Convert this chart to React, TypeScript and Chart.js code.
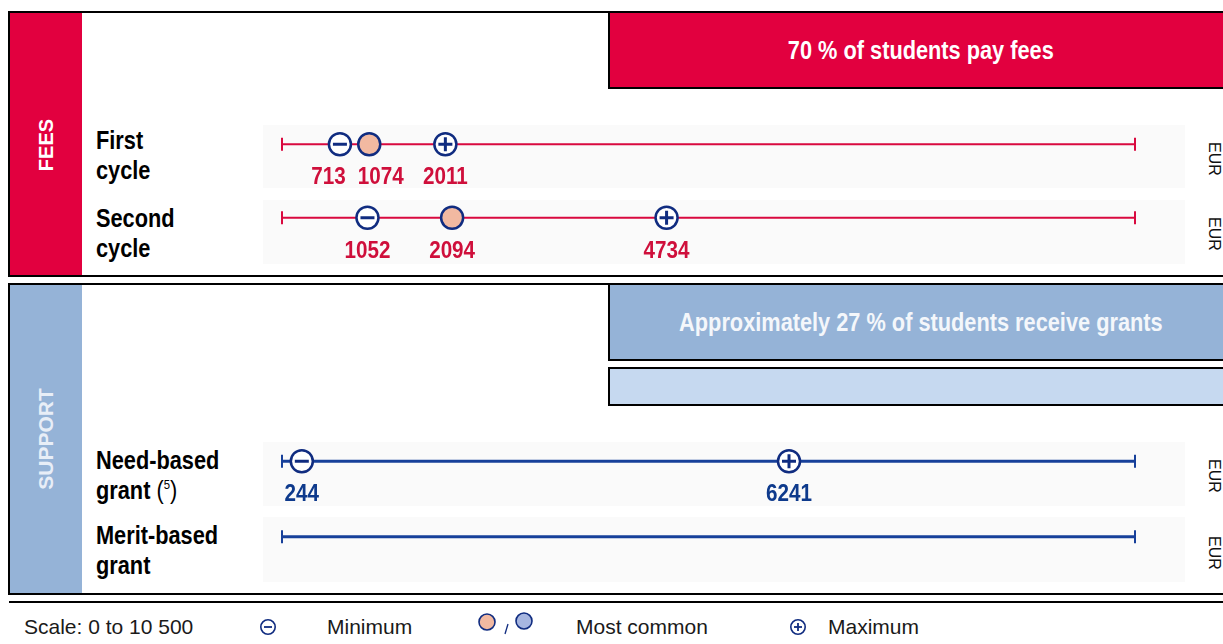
import React, { useEffect, useRef } from 'react';
import { Chart, registerables } from 'chart.js';

Chart.register(...registerables);

// ---------- data ----------
const SCALE_MIN = 0;
const SCALE_MAX = 10500;

const feeRows = ['First cycle', 'Second cycle'];
const feeMin: (number | null)[] = [713, 1052];
const feeCommon: (number | null)[] = [1074, 2094];
const feeMax: (number | null)[] = [2011, 4734];

const supportRows = ['Need-based grant', 'Merit-based grant'];
const supportMin: (number | null)[] = [244, null];
const supportCommon: (number | null)[] = [null, null];
const supportMax: (number | null)[] = [6241, null];

const feeShare = '70 % of students pay fees';
const grantShare = 'Approximately 27 % of students receive grants';
const currency = 'EUR';
const scaleText = 'Scale: 0 to 10 500';

// ---------- styles ----------
const RED = '#E2003F';
const LINE_RED = '#D9093F';
const LABEL_RED = '#CF0F3B';
const NAVY = '#102C80';
const LINE_NAVY = '#17409A';
const LABEL_NAVY = '#0E3A8C';
const PEACH = '#F2B9A1';
const LAVENDER = '#A7B6E0';
const BLUE_SIDE = '#95B3D7';
const LIGHT_BLUE = '#C6D9F0';
const ROW_BG = '#FAFAFA';
const SANS = '"Liberation Sans", Arial, sans-serif';
const NARROW_X = 0.87;
const LABEL_X = 0.86;

const valueLabelsPlugin = {
  id: 'valueLabels',
  afterDatasetsDraw(chart: any, _args: any, opts: any) {
    const { ctx } = chart;
    const x = chart.scales.x;
    const y = chart.scales.y;
    ctx.save();
    ctx.font = opts.font;
    ctx.fillStyle = opts.color;
    ctx.textAlign = 'center';
    ctx.textBaseline = 'alphabetic';
    (opts.rows as string[]).forEach((_r: string, i: number) => {
      const vals = [opts.mins[i], opts.commons[i], opts.maxs[i]].filter(
        (v: number | null) => v != null
      ) as number[];
      const items = vals
        .sort((a, b) => a - b)
        .map((v) => ({
          text: String(v),
          cx: x.getPixelForValue(v),
          w: ctx.measureText(String(v)).width * opts.squeeze,
        }));
      for (let k = 0; k < 30; k++) {
        for (let j = 1; j < items.length; j++) {
          const a = items[j - 1];
          const b = items[j];
          const need = a.w / 2 + b.w / 2 + opts.gap;
          const d = b.cx - a.cx;
          if (d < need) {
            const s = (need - d) / 2;
            a.cx -= s;
            b.cx += s;
          }
        }
      }
      const yy = y.getPixelForValue(i) + opts.offset;
      items.forEach((it) => {
        ctx.save();
        ctx.translate(it.cx, yy);
        ctx.scale(opts.squeeze, 1);
        ctx.fillText(it.text, 0, 0);
        ctx.restore();
      });
    });
    ctx.restore();
  },
};

function makeChart(
  canvas: HTMLCanvasElement,
  rows: string[],
  mins: (number | null)[],
  commons: (number | null)[],
  maxs: (number | null)[],
  lineColor: string,
  lineWidth: number,
  labelColor: string,
  padTop: number,
  padBottom: number
) {
  const pts = (arr: (number | null)[]) =>
    arr
      .map((v, i) => (v == null ? null : { x: v, y: rows[i] }))
      .filter((p) => p != null);

  const rowLines = rows.map((r) => ({
    type: 'line',
    data: [
      { x: SCALE_MIN, y: r },
      { x: SCALE_MAX, y: r },
    ],
    borderColor: lineColor,
    borderWidth: lineWidth,
    pointStyle: 'line',
    pointRotation: 90,
    pointRadius: 6.5,
    pointBorderWidth: 2,
    pointBorderColor: lineColor,
    pointBackgroundColor: lineColor,
    clip: false,
    order: 10,
  }));

  const circle = (data: any[], fill: string) => ({
    type: 'scatter',
    data,
    pointStyle: 'circle',
    pointRadius: 11,
    pointBackgroundColor: fill,
    pointBorderColor: NAVY,
    pointBorderWidth: 2.5,
    clip: false,
    order: 3,
  });

  return new Chart(canvas, {
    type: 'scatter',
    data: {
      datasets: [
        circle(pts(commons), PEACH),
        circle(pts(mins), '#FFFFFF'),
        circle(pts(maxs), '#FFFFFF'),
        {
          type: 'scatter',
          data: pts(mins),
          pointStyle: 'line',
          pointRadius: 7,
          pointBorderWidth: 3,
          pointBorderColor: NAVY,
          clip: false,
          order: 1,
        },
        {
          type: 'scatter',
          data: pts(maxs),
          pointStyle: 'cross',
          pointRadius: 7,
          pointBorderWidth: 3,
          pointBorderColor: NAVY,
          clip: false,
          order: 1,
        },
        ...rowLines,
      ] as any,
    },
    options: {
      responsive: false,
      animation: false,
      events: [],
      layout: { padding: { left: 282, right: 88, top: padTop, bottom: padBottom } },
      plugins: {
        legend: { display: false },
        tooltip: { enabled: false },
        valueLabels: {
          rows,
          mins,
          commons,
          maxs,
          font: `bold 24px ${SANS}`,
          squeeze: LABEL_X,
          color: labelColor,
          gap: 12,
          offset: 40,
        },
      } as any,
      scales: {
        x: { type: 'linear', min: SCALE_MIN, max: SCALE_MAX, display: false },
        y: { type: 'category', labels: rows, offset: true, display: false },
      },
    },
    plugins: [valueLabelsPlugin],
  } as any);
}

const abs = (s: React.CSSProperties): React.CSSProperties => ({ position: 'absolute', ...s });

function RowLabel({ top, children }: { top: number; children: React.ReactNode }) {
  return (
    <div
      style={abs({
        left: 96,
        top,
        font: `bold 25px ${SANS}`,
        lineHeight: '30px',
        color: '#000',
        whiteSpace: 'nowrap',
        transform: `scaleX(${NARROW_X})`,
        transformOrigin: 'left top',
      })}
    >
      {children}
    </div>
  );
}

function Eur({ top }: { top: number }) {
  return (
    <div
      style={abs({
        left: 1206,
        top,
        writingMode: 'vertical-rl',
        font: `16px ${SANS}`,
        lineHeight: '16px',
        color: '#111',
      })}
    >
      {currency}
    </div>
  );
}

function RowBg({ top, height }: { top: number; height: number }) {
  return <div style={abs({ left: 263, top, width: 922, height, background: ROW_BG })} />;
}

function Squeezed({ children }: { children: React.ReactNode }) {
  return (
    <span style={{ display: 'inline-block', transform: `scaleX(${NARROW_X})` }}>{children}</span>
  );
}

export default function App() {
  const feeRef = useRef<HTMLCanvasElement>(null);
  const supRef = useRef<HTMLCanvasElement>(null);

  useEffect(() => {
    const c1 = makeChart(
      feeRef.current!,
      feeRows,
      feeMin,
      feeCommon,
      feeMax,
      LINE_RED,
      2,
      LABEL_RED,
      10.5,
      13.5
    );
    const c2 = makeChart(
      supRef.current!,
      supportRows,
      supportMin,
      supportCommon,
      supportMax,
      LINE_NAVY,
      3,
      LABEL_NAVY,
      10.5,
      15.5
    );
    return () => {
      c1.destroy();
      c2.destroy();
    };
  }, []);

  return (
    <div
      style={abs({
        left: 0,
        top: 0,
        width: 1223,
        height: 644,
        overflow: 'hidden',
        background: '#fff',
        fontFamily: SANS,
      })}
    >
      {/* FEES panel */}
      <div
        style={abs({
          left: 8,
          top: 11,
          width: 1260,
          height: 266,
          border: '2px solid #000',
          boxSizing: 'border-box',
        })}
      />
      <div style={abs({ left: 10, top: 13, width: 72, height: 262, background: RED })} />
      <div
        style={abs({
          left: 46,
          top: 144.5,
          transform: 'translate(-50%, -50%) rotate(-90deg)',
          font: `bold 20px ${SANS}`,
          color: '#fff',
          whiteSpace: 'nowrap',
        })}
      >
        FEES
      </div>
      <div
        style={abs({
          left: 608,
          top: 11,
          width: 626,
          height: 78,
          border: '2px solid #000',
          boxSizing: 'border-box',
          background: RED,
          display: 'flex',
          alignItems: 'center',
          justifyContent: 'center',
          font: `bold 25px ${SANS}`,
          color: '#fff',
          whiteSpace: 'nowrap',
        })}
      >
        <Squeezed>{feeShare}</Squeezed>
      </div>
      <RowBg top={125} height={63} />
      <RowBg top={200} height={64} />
      <RowLabel top={125.3}>
        First
        <br />
        cycle
      </RowLabel>
      <RowLabel top={202.8}>
        Second
        <br />
        cycle
      </RowLabel>
      <Eur top={142} />
      <Eur top={217} />

      {/* SUPPORT panel */}
      <div
        style={abs({
          left: 8,
          top: 283,
          width: 1260,
          height: 312,
          border: '2px solid #000',
          boxSizing: 'border-box',
        })}
      />
      <div style={abs({ left: 10, top: 285, width: 72, height: 308, background: BLUE_SIDE })} />
      <div
        style={abs({
          left: 46,
          top: 439,
          transform: 'translate(-50%, -50%) rotate(-90deg)',
          font: `bold 21px ${SANS}`,
          color: '#E8EEF7',
          whiteSpace: 'nowrap',
        })}
      >
        SUPPORT
      </div>
      <div
        style={abs({
          left: 608,
          top: 283,
          width: 626,
          height: 78,
          border: '2px solid #000',
          boxSizing: 'border-box',
          background: BLUE_SIDE,
          display: 'flex',
          alignItems: 'center',
          justifyContent: 'center',
          font: `bold 25px ${SANS}`,
          color: '#F4F7FB',
          whiteSpace: 'nowrap',
        })}
      >
        <Squeezed>{grantShare}</Squeezed>
      </div>
      <div
        style={abs({
          left: 608,
          top: 367,
          width: 626,
          height: 39,
          border: '2px solid #000',
          boxSizing: 'border-box',
          background: LIGHT_BLUE,
        })}
      />
      <RowBg top={442} height={64} />
      <RowBg top={517} height={65} />
      <RowLabel top={444.6}>
        Need-based
        <br />
        grant{' '}
        <span style={{ fontWeight: 'normal' }}>
          (<sup style={{ fontSize: 13, verticalAlign: 'top', lineHeight: '20px' }}>5</sup>)
        </span>
      </RowLabel>
      <RowLabel top={519.6}>
        Merit-based
        <br />
        grant
      </RowLabel>
      <Eur top={459} />
      <Eur top={536} />

      {/* chart canvases */}
      <canvas ref={feeRef} width={1223} height={174} style={abs({ left: 0, top: 94 })} />
      <canvas ref={supRef} width={1223} height={180} style={abs({ left: 0, top: 410 })} />

      {/* legend */}
      <div style={abs({ left: 9, top: 601, width: 1260, height: 2, background: '#000' })} />
      <div
        style={abs({
          left: 0,
          top: 614,
          width: 1223,
          height: 28,
          font: `21px ${SANS}`,
          lineHeight: '26px',
          color: '#1A1A1A',
        })}
      >
        <span style={abs({ left: 24, top: 0 })}>{scaleText}</span>
        <svg style={abs({ left: 259, top: 4 })} width={18} height={18}>
          <circle cx={9} cy={9} r={7.2} fill="#fff" stroke={NAVY} strokeWidth={1.6} />
          <line x1={5} y1={9} x2={13} y2={9} stroke={NAVY} strokeWidth={1.8} />
        </svg>
        <span style={abs({ left: 327, top: 0 })}>Minimum</span>
        <svg style={abs({ left: 477, top: -2 })} width={58} height={26}>
          <circle cx={10} cy={10} r={8} fill={PEACH} stroke={NAVY} strokeWidth={1.6} />
          <line x1={31} y1={12} x2={28} y2={22} stroke={NAVY} strokeWidth={1.3} />
          <circle cx={47} cy={9} r={8} fill={LAVENDER} stroke={NAVY} strokeWidth={1.6} />
        </svg>
        <span style={abs({ left: 576, top: 0 })}>Most common</span>
        <svg style={abs({ left: 789, top: 4 })} width={18} height={18}>
          <circle cx={9} cy={9} r={7.2} fill="#fff" stroke={NAVY} strokeWidth={1.6} />
          <line x1={5} y1={9} x2={13} y2={9} stroke={NAVY} strokeWidth={1.8} />
          <line x1={9} y1={5} x2={9} y2={13} stroke={NAVY} strokeWidth={1.8} />
        </svg>
        <span style={abs({ left: 828, top: 0 })}>Maximum</span>
      </div>
    </div>
  );
}
